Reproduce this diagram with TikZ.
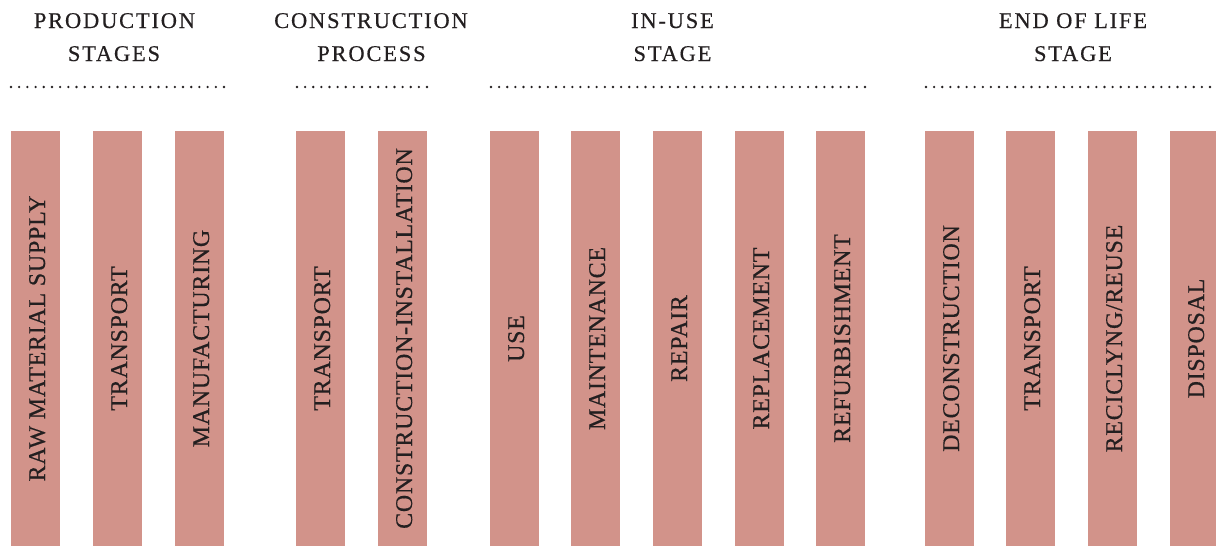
\documentclass[tikz,border=0pt]{standalone}
\usepackage{fontspec}
\setmainfont{Liberation Serif}
\newfontfamily\hdfont[LetterSpace=8,FakeBold=0.4]{Liberation Serif}
\newfontfamily\barfont[LetterSpace=3,FakeBold=0.4]{Liberation Serif}
\definecolor{barpink}{RGB}{210,147,138}
\definecolor{inkdark}{RGB}{35,31,32}
\tikzset{
  hdr/.style={anchor=base, inner sep=0pt, text=inkdark, font=\hdfont\fontsize{22.5}{22.5}\selectfont},
  barbox/.style={rotate=90, fill=barpink, draw=none, inner sep=0pt,
    minimum width=415pt, minimum height=49pt, text=inkdark,
    text height=19pt, text depth=0pt, font=\barfont\fontsize{24}{24}\selectfont},
  dotline/.style={draw=inkdark, line width=2.6pt, line cap=round}
}
\begin{document}
\begin{tikzpicture}[x=1pt,y=-1pt]
\useasboundingbox (0,0) rectangle (1216,546);
% headers
\node[hdr] (p1) at (114.5,28) {PRODUCTION};
\node[hdr] (p2) at (114,61) {STAGES};
\node[hdr] (c1) at (371,28) {CONSTRUCTION};
\node[hdr] (c2) at (371.5,61) {PROCESS};
\node[hdr] (u1) at (672.5,28) {IN-USE};
\node[hdr] (u2) at (672.5,61) {STAGE};
\node[hdr] (e1) at (1073,28) {END OF LIFE};
\node[hdr] (e2) at (1073,61) {STAGE};
% dotted rules
\coordinate (pa) at (11,87);  \coordinate (pb) at (224.1,87);
\coordinate (ca) at (297,87); \coordinate (cb) at (427.1,87);
\coordinate (ua) at (491,87); \coordinate (ub) at (865.1,87);
\coordinate (ea) at (926,87); \coordinate (eb) at (1210.1,87);
\draw[dotline, dash pattern=on 0pt off 8.192pt] (pa) -- (pb);
\draw[dotline, dash pattern=on 0pt off 8.125pt] (ca) -- (cb);
\draw[dotline, dash pattern=on 0pt off 8.130pt] (ua) -- (ub);
\draw[dotline, dash pattern=on 0pt off 8.114pt] (ea) -- (eb);
% bars
\node[barbox] (b1)  at (35.5,338.5)  {RAW MATERIAL SUPPLY};
\node[barbox] (b2)  at (117.5,338.5) {TRANSPORT};
\node[barbox] (b3)  at (199.5,338.5) {MANUFACTURING};
\node[barbox] (b4)  at (320.5,338.5) {TRANSPORT};
\node[barbox] (b5)  at (402.5,338.5) {CONSTRUCTION-INSTALLATION};
\node[barbox] (b6)  at (514.5,338.5) {USE};
\node[barbox] (b7)  at (595.5,338.5) {MAINTENANCE};
\node[barbox] (b8)  at (677.5,338.5) {REPAIR};
\node[barbox] (b9)  at (759.5,338.5) {REPLACEMENT};
\node[barbox] (b10) at (840.5,338.5) {REFURBISHMENT};
\node[barbox] (b11) at (949.5,338.5) {DECONSTRUCTION};
\node[barbox] (b12) at (1030.5,338.5) {TRANSPORT};
\node[barbox] (b13) at (1112.5,338.5) {RECICLYNG/REUSE};
\node[barbox] (b14) at (1194.5,338.5) {DISPOSAL};
\end{tikzpicture}
\end{document}
